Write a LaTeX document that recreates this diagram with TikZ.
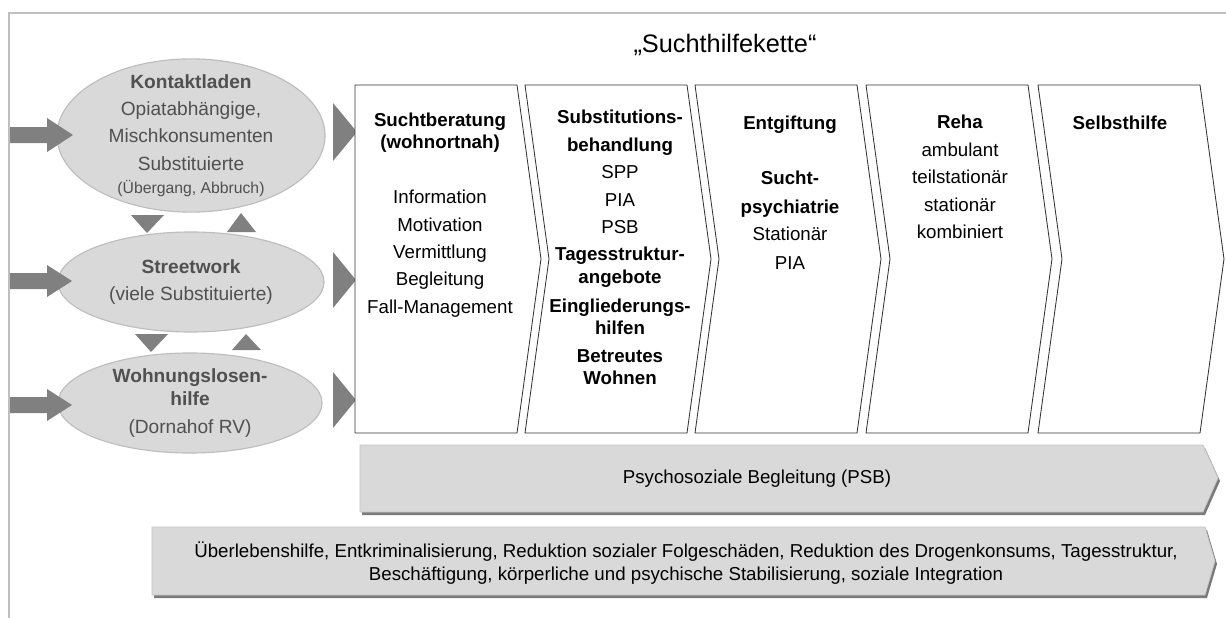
\documentclass[tikz,border=0pt]{standalone}
\usepackage{fontspec}
\setmainfont{Liberation Sans}
\usetikzlibrary{shapes.geometric}

\definecolor{ovalgray}{HTML}{D9D9D9}
\definecolor{ovalrim}{HTML}{BDBDBD}
\definecolor{tipgray}{HTML}{808080}
\definecolor{labelgray}{HTML}{505050}
\definecolor{framegray}{HTML}{BFBFBF}
\definecolor{bargray}{HTML}{D9D9D9}
\definecolor{barrim}{HTML}{C4C4C4}
\definecolor{shadegray}{HTML}{7A7A7A}

\tikzset{
  oval/.style={ellipse, draw=ovalrim, fill=ovalgray, line width=0.8pt, inner sep=0pt},
  ovaltext/.style={text=labelgray, align=center, inner sep=0pt, font=\fontsize{13.6}{19.5}\selectfont},
  chev/.style={draw=black!80, line width=0.6pt, fill=white},
  boxtext/.style={align=center, anchor=north, inner sep=0pt, font=\fontsize{13.3}{19.5}\selectfont},
  bar/.style={fill=bargray, draw=barrim, line width=0.5pt},
  bartext/.style={align=center, inner sep=0pt, font=\fontsize{13.3}{16.4}\selectfont}
}

\begin{document}
\begin{tikzpicture}[x=0.025cm, y=-0.025cm]
\useasboundingbox (0,0) rectangle (1226,618);

% frame
\draw[framegray, line width=1.2pt] (9,618) -- (9,13) -- (1226,13);

\node[font=\fontsize{18}{22}\selectfont] (title) at (725,45) {„Suchthilfekette“};

% ovals
\node[oval, minimum width=6.7cm, minimum height=3.83cm] (kontakt) at (191,135.5) {};
\node[oval, minimum width=6.65cm, minimum height=2.5cm] (street) at (191,282) {};
\node[oval, minimum width=6.6cm, minimum height=2.5cm] (wohnung) at (190,403) {};

\node[ovaltext] (kontakttxt) at (kontakt.center) {\textbf{Kontaktladen}\\Opiatabhängige,\\Mischkonsumenten\\Substituierte\\[-3pt]{\fontsize{11.2}{13}\selectfont(Übergang, Abbruch)}};
\node[ovaltext] (streettxt) at (street.center) {\textbf{Streetwork}\\(viele Substituierte)};
\node[ovaltext] (wohnungtxt) at (wohnung.center) {\textbf{Wohnungslosen-}\\[-3pt]\textbf{hilfe}\\[0pt](Dornahof RV)};

% arrows in
\fill[tipgray] (10,127) -- (47,127) -- (47,118) -- (73,135) -- (47,152) -- (47,143) -- (10,143) -- cycle;
\fill[tipgray] (10,273) -- (47,273) -- (47,265) -- (72,281) -- (47,297) -- (47,289) -- (10,289) -- cycle;
\fill[tipgray] (10,397) -- (47,397) -- (47,389) -- (72,405) -- (47,421) -- (47,413) -- (10,413) -- cycle;

% up and down between the ovals
\fill[tipgray] (131,215) -- (164,215) -- (147,233) -- cycle;
\fill[tipgray] (227,232) -- (256,232) -- (241,213) -- cycle;
\fill[tipgray] (135,334) -- (168,334) -- (151,352) -- cycle;
\fill[tipgray] (232,350) -- (261,350) -- (246,334) -- cycle;

% arrows out
\fill[tipgray] (333,103) -- (357,132) -- (333,161) -- cycle;
\fill[tipgray] (333,252) -- (356,280) -- (333,308) -- cycle;
\fill[tipgray] (333,372) -- (356,400) -- (333,428) -- cycle;

% chain
\draw[chev] (355,85) -- (517,85) -- (541,259) -- (517,433) -- (355,433) -- cycle;
\draw[chev] (525,85) -- (687,85) -- (711,259) -- (687,433) -- (525,433) -- (549,259) -- cycle;
\draw[chev] (695,85) -- (857,85) -- (881,259) -- (857,433) -- (695,433) -- (719,259) -- cycle;
\draw[chev] (866,85) -- (1028,85) -- (1052,259) -- (1028,433) -- (866,433) -- (890,259) -- cycle;
\draw[chev] (1038,85) -- (1200,85) -- (1224,259) -- (1200,433) -- (1038,433) -- (1062,259) -- cycle;

\node[boxtext] (beratung) at (440,113) {\textbf{Suchtberatung}\\[-3.9pt]\textbf{(wohnortnah)}\\[19.5pt]Information\\Motivation\\Vermittlung\\Begleitung\\Fall-Management};
\node[boxtext] (substitution) at (620,110) {\textbf{Substitutions-}\\\textbf{behandlung}\\SPP\\PIA\\PSB\\\textbf{Tagesstruktur-}\\[-3.2pt]\textbf{angebote}\\[1pt]\textbf{Eingliederungs-}\\[-3.9pt]\textbf{hilfen}\\\textbf{Betreutes}\\[-3.2pt]\textbf{Wohnen}};
\node[boxtext] (entgiftung) at (790,116) {\textbf{Entgiftung}\\[19.5pt]\textbf{Sucht-}\\[1pt]\textbf{psychiatrie}\\Stationär\\[1pt]PIA};
\node[boxtext] (reha) at (960,115) {\textbf{Reha}\\ambulant\\teilstationär\\stationär\\kombiniert};
\node[boxtext] (selbsthilfe) at (1120,116) {\textbf{Selbsthilfe}};

% bars
\fill[shadegray] (362,448) -- (1205,448) -- (1220,481) -- (1205,515) -- (362,515) -- cycle;
\filldraw[bar] (360,445) -- (1203,445) -- (1218,478) -- (1203,512) -- (360,512) -- cycle;
\node[bartext] (psb) at (757,479) {Psychosoziale Begleitung (PSB)};

\fill[shadegray] (154,530) -- (1207,530) -- (1217,564) -- (1207,598) -- (154,598) -- cycle;
\filldraw[bar] (152,527) -- (1205,527) -- (1215,561) -- (1205,595) -- (152,595) -- cycle;
\node[bartext] (ziele) at (686,563) {Überlebenshilfe, Entkriminalisierung, Reduktion sozialer Folgeschäden, Reduktion des Drogenkonsums, Tagesstruktur,\\Beschäftigung, körperliche und psychische Stabilisierung, soziale Integration};

\end{tikzpicture}
\end{document}
